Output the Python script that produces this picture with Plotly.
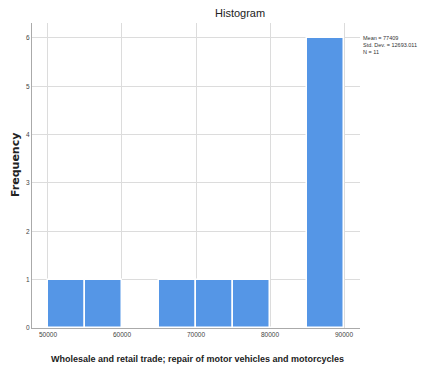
import plotly.graph_objects as go

bin_starts = [50000, 55000, 60000, 65000, 70000, 75000, 80000, 85000]
counts = [1, 1, 0, 1, 1, 1, 0, 6]
bin_width = 5000
x_ticks = [50000, 60000, 70000, 80000, 90000]
y_ticks = [0, 1, 2, 3, 4, 5, 6]
stats_lines = ["Mean = 77409", "Std. Dev. = 12693.011", "N = 11"]

centers = [s + bin_width / 2 for s in bin_starts]

fig = go.Figure()
fig.add_trace(go.Bar(
    x=centers, y=counts, width=[bin_width] * len(counts),
    marker=dict(color="#5596E6", line=dict(color="white", width=1.5)),
    hoverinfo="skip",
))

fig.update_layout(
    width=420, height=362,
    margin=dict(l=24, r=68, t=15, b=42, autoexpand=False),
    paper_bgcolor="white", plot_bgcolor="white",
    showlegend=False,
    font=dict(family="Arial, Liberation Sans, sans-serif", color="#333333"),
    bargap=0,
)
fig.update_xaxes(
    range=[47840, 92160], tickvals=x_ticks, ticktext=[str(v) for v in x_ticks],
    showgrid=True, gridcolor="#dcdcdc", gridwidth=1,
    showline=True, linecolor="#aaaaaa", linewidth=1,
    tickfont=dict(size=6.5, color="#444444"), ticks="", ticklen=0,
    zeroline=False, automargin=False,
)
fig.update_yaxes(
    range=[0, 6.31], tickvals=y_ticks,
    showgrid=True, gridcolor="#dcdcdc", gridwidth=1,
    showline=True, linecolor="#aaaaaa", linewidth=1,
    tickfont=dict(size=6.5, color="#444444"), ticks="",
    zeroline=False, automargin=False,
)

fig.add_annotation(text="Histogram", xref="paper", yref="paper",
                   x=(240 - 32) / 328, y=1, yanchor="bottom", yshift=2,
                   showarrow=False, font=dict(size=11, color="#222222"))
fig.add_annotation(text="<b>Wholesale and retail trade; repair of motor vehicles and motorcycles</b>",
                   xref="paper", yref="paper", x=(197 - 32) / 328, y=0,
                   yanchor="top", yshift=-24, showarrow=False,
                   font=dict(size=9, color="#222222"))
fig.add_annotation(text="<b>Frequency</b>", xref="paper", yref="paper",
                   x=0, xanchor="center", xshift=-17, y=(328 - 165) / 305,
                   textangle=-90, showarrow=False, borderpad=0,
                   font=dict(size=11, family="DejaVu Sans", color="#222222"))
fig.add_annotation(text="<br>".join(stats_lines), xref="paper", yref="paper",
                   x=1, xanchor="left", xshift=2, y=(328 - 34) / 305, yanchor="top",
                   align="left", showarrow=False, borderpad=0,
                   font=dict(size=5.5, color="#333333"))

fig.write_html("out.html")
